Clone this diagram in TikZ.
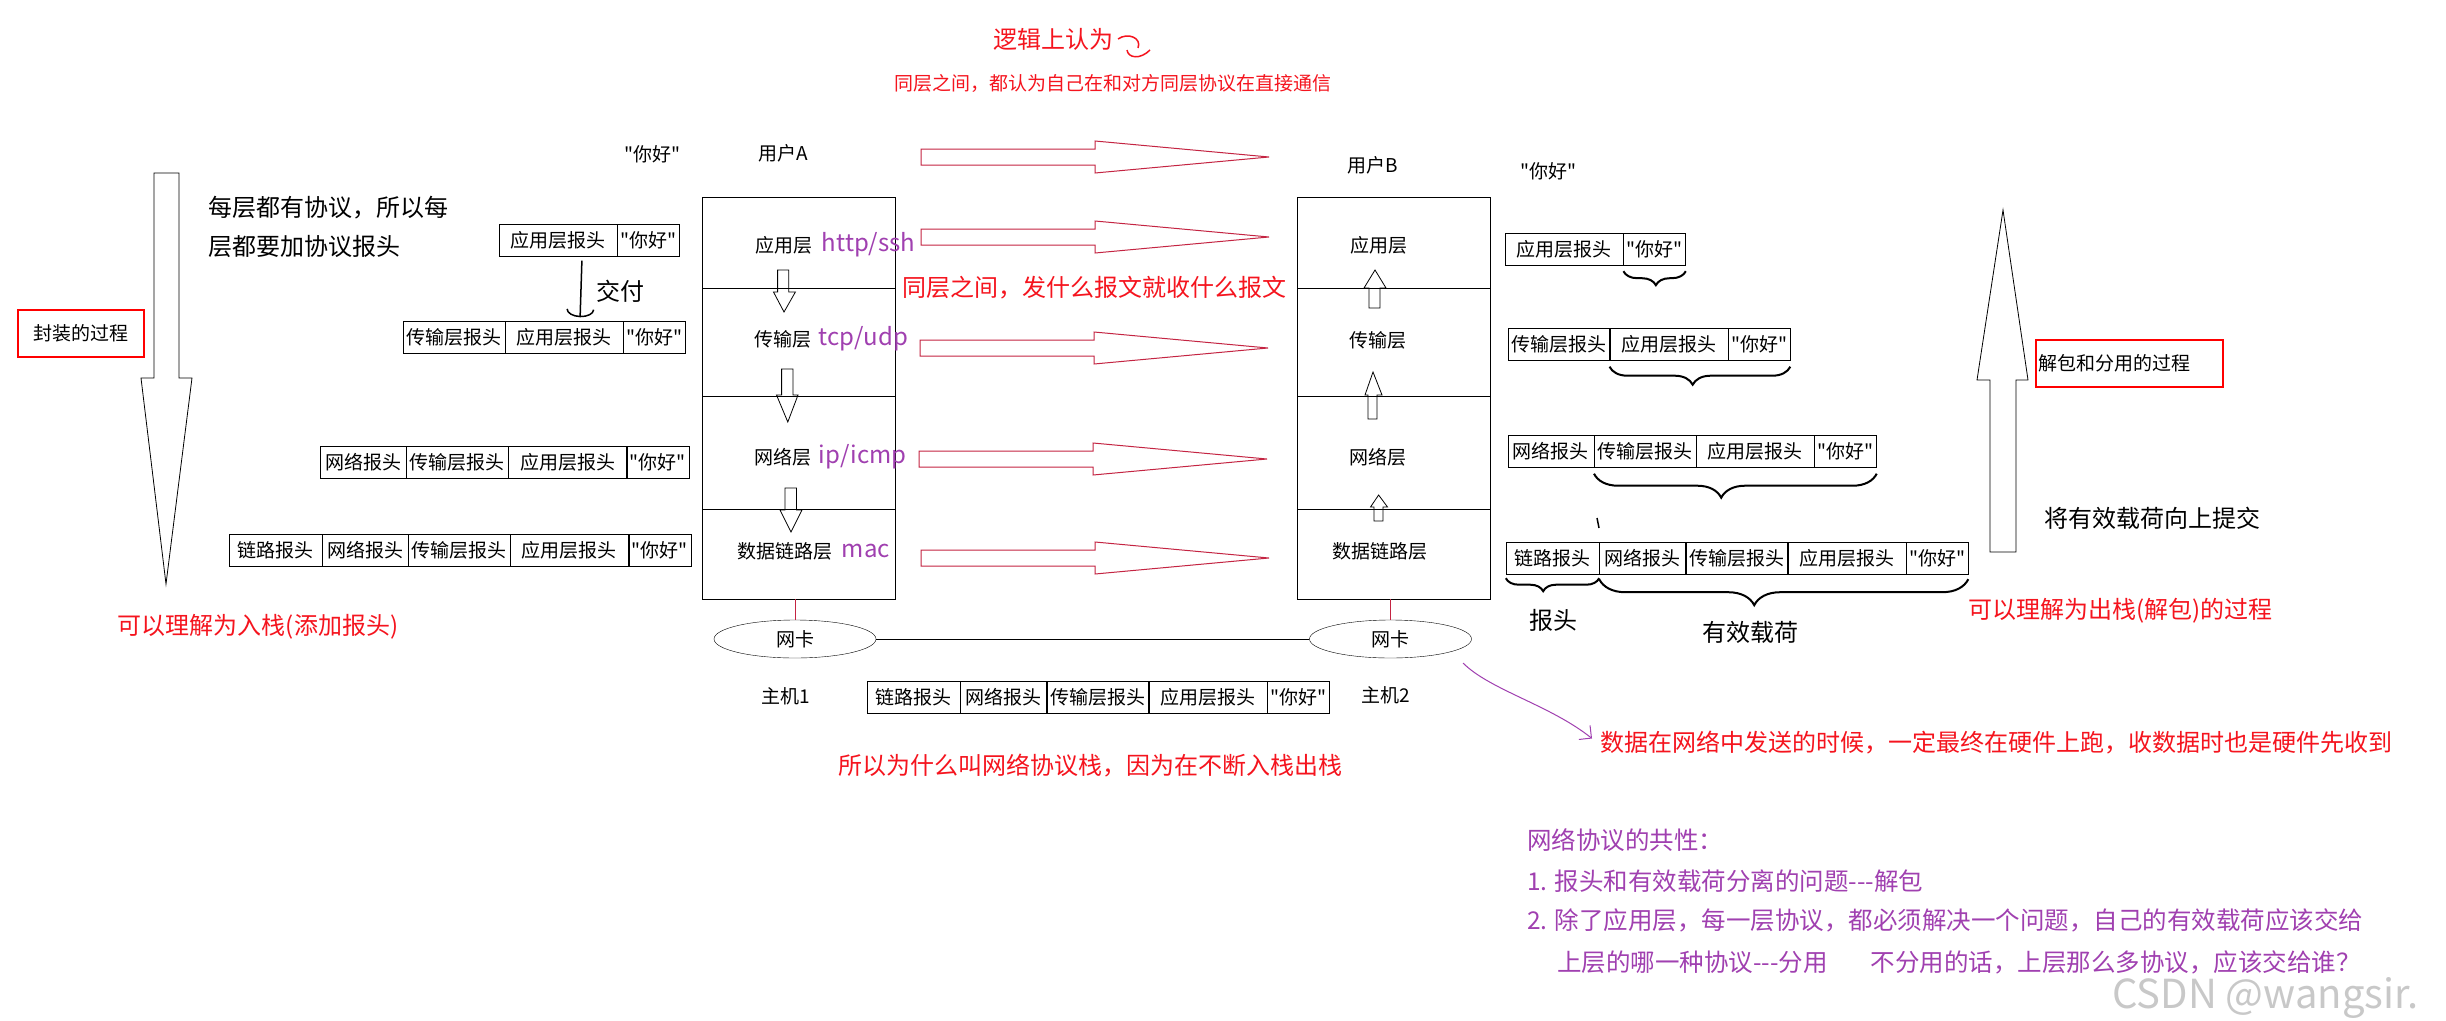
\documentclass[tikz,border=0pt]{standalone}
\usepackage{fontspec}
\setmainfont{Noto Sans CJK SC}[Ligatures=TeXOff]
\usepackage{xcolor}
\usepackage{tikz}
\usetikzlibrary{positioning,shapes.geometric,arrows.meta,decorations.pathreplacing}
\definecolor{peerred}{RGB}{196, 36, 66}
\definecolor{protopurple}{RGB}{160, 64, 176}
\definecolor{notered}{RGB}{245, 20, 30}
\definecolor{wmgray}{RGB}{200, 200, 200}
\newcommand{\cnsmall}{\fontsize{19}{23}\selectfont}
\newcommand{\cnbig}{\fontsize{24}{29}\selectfont}
\newcommand{\cnlist}{\fontsize{24.5}{29}\selectfont}

\begin{document}
\begin{tikzpicture}[
    x=1pt, y=-1pt,
    txt/.style={inner sep=0pt, font=\cnsmall},
    note/.style={inner sep=0pt, font=\cnbig, anchor=west},
    rednote/.style={note, text=notered},
    listnote/.style={inner sep=0pt, font=\cnlist, anchor=west, text=protopurple},
    proto/.style={inner sep=0pt, font=\cnbig, text=protopurple},
    layer/.style={draw, minimum width=193pt, inner sep=0pt},
    hdr/.style={draw, minimum height=32pt, inner sep=0pt, font=\cnsmall},
    lnkhdr/.style={hdr, minimum width=93pt},
    nethdr/.style={hdr, minimum width=86pt},
    trnhdr/.style={hdr, minimum width=101.5pt},
    apphdr/.style={hdr, minimum width=118pt},
    payload/.style={hdr, minimum width=62pt},
    nic/.style={ellipse, draw, minimum width=162pt, minimum height=38pt, inner sep=0pt, font=\cnsmall},
    procbox/.style={draw=red, line width=2.5pt, minimum height=47pt, inner sep=3pt, font=\cnsmall},
    hollow/.style={draw, line width=0.8pt},
    brace/.style={decorate, line width=2pt},
    peerarrow/.pic={\draw[peerred, line width=1pt] (0,-8) -- (174,-8) -- (174,-16) -- (348,0)
                    -- (174,16) -- (174,8) -- (0,8) -- cycle;}
]
    \useasboundingbox (0,0) rectangle (2446,1020);
    \fill[white] (0,0) rectangle (2446,1020);

    % host 1 stack
    \node[layer, minimum height=91pt] (la1) at (799,242.5) {};
    \node[layer, minimum height=107.5pt, below=0pt of la1] (la2) {};
    \node[layer, minimum height=112.5pt, below=0pt of la2] (la3) {};
    \node[layer, minimum height=90pt, below=0pt of la3] (la4) {};
    \node[txt] (la1txt) at (784,245) {应用层};
    \node[proto, right=9pt of la1txt] (la1proto) {http/ssh};
    \node[txt] (la2txt) at (783,339) {传输层};
    \node[proto, right=7pt of la2txt] (la2proto) {tcp/udp};
    \node[txt] (la3txt) at (783,457) {网络层};
    \node[proto, right=7pt of la3txt] (la3proto) {ip/icmp};
    \node[txt] (la4txt) at (785,551) {数据链路层};
    \node[proto, right=9pt of la4txt] (la4proto) {mac};

    % host 2 stack
    \node[layer, minimum height=91pt] (lb1) at (1393.5,242.5) {};
    \node[layer, minimum height=107.5pt, below=0pt of lb1] (lb2) {};
    \node[layer, minimum height=112.5pt, below=0pt of lb2] (lb3) {};
    \node[layer, minimum height=90pt, below=0pt of lb3] (lb4) {};
    \node[txt] (lb1txt) at (1379,245) {应用层};
    \node[txt] (lb2txt) at (1378,340) {传输层};
    \node[txt] (lb3txt) at (1378,457) {网络层};
    \node[txt] (lb4txt) at (1380,551) {数据链路层};

    \node[txt] (usera) at (783,153.5) {用户A};
    \node[txt] (userb) at (1373,165.5) {用户B};
    \node[txt, anchor=west] (hia) at (624,154) {"你好"};
    \node[txt, anchor=west] (hib) at (1520,171.5) {"你好"};

    \node[nic] (nic1) at (795,639) {网卡};
    \node[nic] (nic2) at (1390.5,639) {网卡};
    \draw[peerred] (nic1.north |- la4.south) -- (nic1.north);
    \draw[peerred] (nic2.north |- lb4.south) -- (nic2.north);
    \draw (nic1) -- (nic2);
    \node[txt, anchor=west] (host1) at (761,696.5) {主机1};
    \node[txt, anchor=west] (host2) at (1361,695.5) {主机2};

    \pic at (921,157) {peerarrow};
    \pic at (921,237) {peerarrow};
    \pic at (920,348) {peerarrow};
    \pic at (919,459) {peerarrow};
    \pic at (921,558) {peerarrow};

    % down inside host 1, up inside host 2
    \draw[hollow] (777.6,270) -- (788.8,270) -- (788.8,292) -- (795.4,292) -- (784,312) -- (773.5,292) -- (777.6,292) -- cycle;
    \draw[hollow] (781.6,369) -- (793,369) -- (793,395) -- (798,395) -- (787.8,422) -- (776.5,395) -- (781.6,395) -- cycle;
    \draw[hollow] (785,488) -- (796.4,488) -- (796.4,510) -- (802,510) -- (791,532) -- (780,510) -- (785,510) -- cycle;
    \draw[hollow] (1369,308) -- (1380,308) -- (1380,288) -- (1386,288) -- (1375,270) -- (1364,288) -- (1369,288) -- cycle;
    \draw[hollow] (1368,419) -- (1377,419) -- (1377,395) -- (1382,395) -- (1373,372) -- (1365,395) -- (1368,395) -- cycle;
    \draw[hollow] (1374,521) -- (1383,521) -- (1383,507) -- (1387.5,507) -- (1378.6,495) -- (1370.5,507) -- (1374,507) -- cycle;

    % sending side
    \draw[hollow] (154,173) -- (179,173) -- (179,378) -- (192,378) -- (166,584) -- (141,378) -- (154,378) -- cycle;
    \node[procbox, minimum width=126pt] (encap) at (81,333.5) {封装的过程};
    \node[note, align=left, font=\fontsize{24}{39}\selectfont] (everylayer) at (208,227) {每层都有协议，所以每\\层都要加协议报头};
    \node[rednote] (pushnote) at (117.7,626.5) {可以理解为入栈(添加报头)};

    \node[apphdr, anchor=west] (a1app) at (498.7,240.5) {应用层报头};
    \node[payload, right=0pt of a1app] (a1msg) {"你好"};

    \node[trnhdr, anchor=west] (a2trn) at (403,337.5) {传输层报头};
    \node[apphdr, right=0pt of a2trn] (a2app) {应用层报头};
    \node[payload, right=0pt of a2app] (a2msg) {"你好"};

    \node[nethdr, anchor=west] (a3net) at (320,462) {网络报头};
    \node[trnhdr, right=0pt of a3net] (a3trn) {传输层报头};
    \node[apphdr, right=0pt of a3trn] (a3app) {应用层报头};
    \node[payload, right=0pt of a3app] (a3msg) {"你好"};

    \node[lnkhdr, anchor=west] (a4lnk) at (228.5,550.5) {链路报头};
    \node[nethdr, right=0pt of a4lnk] (a4net) {网络报头};
    \node[trnhdr, right=0pt of a4net] (a4trn) {传输层报头};
    \node[apphdr, right=0pt of a4trn] (a4app) {应用层报头};
    \node[payload, right=0pt of a4app] (a4msg) {"你好"};

    \draw[line width=1.5pt, -{Arc Barb[length=8pt, width=28pt]}] ([shift={(24,4)}]a1app.south) -- ([shift={(16,-4)}]a2app.north);
    \node[note] (deliver) at (596,291) {交付};

    % on the wire
    \node[lnkhdr, anchor=west] (c1lnk) at (867,697.5) {链路报头};
    \node[nethdr, right=0pt of c1lnk] (c1net) {网络报头};
    \node[trnhdr, right=0pt of c1net] (c1trn) {传输层报头};
    \node[apphdr, right=0pt of c1trn] (c1app) {应用层报头};
    \node[payload, right=0pt of c1app] (c1msg) {"你好"};

    % receiving side
    \node[apphdr, anchor=west] (b1app) at (1505,249) {应用层报头};
    \node[payload, right=0pt of b1app] (b1msg) {"你好"};

    \node[trnhdr, anchor=west] (b2trn) at (1507.6,344.5) {传输层报头};
    \node[apphdr, right=0pt of b2trn] (b2app) {应用层报头};
    \node[payload, right=0pt of b2app] (b2msg) {"你好"};

    \node[nethdr, anchor=west] (b3net) at (1507.6,451.5) {网络报头};
    \node[trnhdr, right=0pt of b3net] (b3trn) {传输层报头};
    \node[apphdr, right=0pt of b3trn] (b3app) {应用层报头};
    \node[payload, right=0pt of b3app] (b3msg) {"你好"};

    \node[lnkhdr, anchor=west] (b4lnk) at (1505.8,558) {链路报头};
    \node[nethdr, right=0pt of b4lnk] (b4net) {网络报头};
    \node[trnhdr, right=0pt of b4net] (b4trn) {传输层报头};
    \node[apphdr, right=0pt of b4trn] (b4app) {应用层报头};
    \node[payload, right=0pt of b4app] (b4msg) {"你好"};

    \draw[brace, decoration={brace, mirror, amplitude=14pt, aspect=0.52}] ([shift={(0,6)}]b1msg.south west) -- ([shift={(0,6)}]b1msg.south east);
    \draw[brace, decoration={brace, mirror, amplitude=18pt, aspect=0.46}] ([shift={(0,6)}]b2app.south west) -- ([shift={(0,6)}]b2msg.south east);
    \draw[brace, decoration={brace, mirror, amplitude=24pt, aspect=0.45}] ([shift={(0,6)}]b3trn.south west) -- ([shift={(0,6)}]b3msg.south east);
    \draw[brace, decoration={brace, mirror, amplitude=13pt, aspect=0.4}] ([shift={(0,4)}]b4lnk.south west) -- ([shift={(0,4)}]b4lnk.south east);
    \draw[brace, decoration={brace, mirror, amplitude=26pt, aspect=0.42}] ([shift={(0,5)}]b4net.south west) -- ([shift={(0,5)}]b4msg.south east);
    \draw[line width=1.5pt] (1597,518) -- (1599,528);
    \node[note] (hdrlabel) at (1529.6,620) {报头};
    \node[note] (payloadlabel) at (1702.5,632) {有效载荷};

    \draw[hollow] (1990,552) -- (2016,552) -- (2016,380) -- (2028,380) -- (2003,210) -- (1977,380) -- (1990,380) -- cycle;
    \node[procbox, text width=181pt, align=left] (decap) at (2129.4,363.5) {解包和分用的过程};
    \node[note] (upnote) at (2044.5,518.5) {将有效载荷向上提交};
    \node[rednote] (popnote) at (1968,611) {可以理解为出栈(解包)的过程};

    % notes
    \node[rednote] (logic) at (993,39) {逻辑上认为};
    \draw[notered, line width=1.5pt] (1118,39) .. controls (1128,32) and (1142,38) .. (1138,48);
    \draw[notered, line width=1.5pt] (1127,50) .. controls (1128,58) and (1140,60) .. (1150,50);
    \node[txt, anchor=west, text=notered] (peernote) at (894,83) {同层之间，都认为自己在和对方同层协议在直接通信};
    \node[rednote] (samemsg) at (902.6,288) {同层之间，发什么报文就收什么报文};
    \node[rednote] (stacknote) at (837.8,766) {所以为什么叫网络协议栈，因为在不断入栈出栈};

    \node[rednote] (hwnote) at (1600,742.5) {数据在网络中发送的时候，一定最终在硬件上跑，收数据时也是硬件先收到};
    \coordinate (hwstart) at (1463,663);
    \draw[protopurple, line width=1pt, -{Straight Barb[length=9pt, width=18pt]}] (hwstart) .. controls (1490,690) and (1550,705) .. ([shift={(-8,-4)}]hwnote.west);

    \node[listnote] (common) at (1527,840) {网络协议的共性：};
    \node[listnote] (item1) at (1527,881) {1. 报头和有效载荷分离的问题---解包};
    \node[listnote] (item2) at (1527,920) {2. 除了应用层，每一层协议，都必须解决一个问题，自己的有效载荷应该交给};
    \node[listnote] (item2b) at (1557,962) {上层的哪一种协议---分用\hspace{43pt}不分用的话，上层那么多协议，应该交给谁？};

    \node[inner sep=0pt, anchor=west, text=wmgray, font=\fontsize{40}{44}\selectfont] (mark) at (2112,998) {CSDN @wangsir.};
\end{tikzpicture}
\end{document}
